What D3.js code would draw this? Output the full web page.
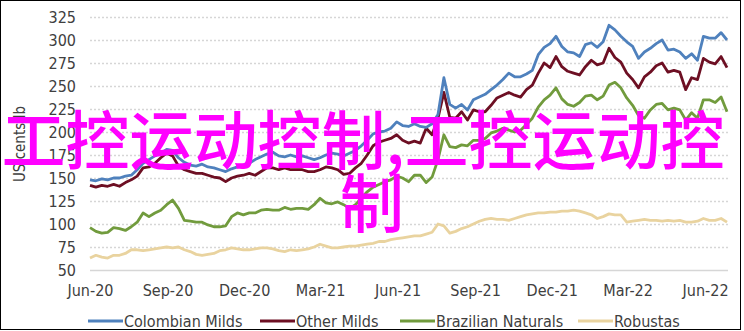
<!DOCTYPE html>
<html>
<head>
<meta charset="utf-8">
<script src="https://cdn.jsdelivr.net/npm/d3@7"></script>
<style>
  html, body { margin: 0; padding: 0; background: #fff; }
  svg { display: block; }
</style>
</head>
<body>
<svg id="chart" width="744" height="331"></svg>
<script>
// weekly observations starting 1 Jun 2020
const startDate = "2020-06-01";
const seriesNames = ["Colombian Milds", "Other Milds", "Brazilian Naturals", "Robustas"];
const seriesColors = ["#4f81bd", "#6d0f23", "#719b3d", "#e9d39f"];

const colombianMilds = [148,147,149,148,150,150,152,153,159,166,170,174,177,181,180,172,167,164,163,165,
  162,161,159,157,160,162,164,166,170,173,176,178,174,173,175,173,174,172,170,172,
  175,177,176,174,177,180,185,191,198,200,201,204,211,207,206,209,206,205,209,219,
  259,230,226,230,224,235,238,241,246,251,257,264,260,260,263,267,284,292,296,304,
  293,287,286,282,295,297,292,298,316,311,304,298,293,280,287,291,296,300,289,290,
  287,280,285,278,304,302,302,308,300];
const otherMilds = [142,140,142,141,143,141,145,148,152,161,162,166,172,177,174,163,159,157,155,155,
  153,151,150,146,150,152,153,155,153,157,161,161,159,161,159,159,159,157,157,159,
  162,161,159,154,155,161,166,175,185,189,191,193,197,191,188,190,188,204,197,215,
  243,216,215,222,213,224,222,222,229,237,240,243,240,238,246,251,264,275,270,282,
  271,266,264,262,271,278,273,275,291,281,276,264,257,248,260,265,272,275,265,267,
  265,246,259,257,280,276,274,282,270];
const brazilianNaturals = [96,92,90,91,96,95,93,97,102,112,108,112,115,121,126,117,104,103,102,102,
  99,97,97,98,108,112,110,112,112,115,116,115,115,118,116,117,117,116,121,128,
  123,122,124,121,117,121,128,135,140,143,146,148,152,150,146,153,153,145,151,170,
  197,184,183,186,185,191,191,193,199,201,204,202,200,202,208,215,227,235,240,248,
  236,230,228,232,239,240,235,239,251,254,248,237,229,218,215,224,230,231,224,226,
  224,213,221,215,235,235,232,238,222];
const robustas = [63,66,64,63,66,66,68,72,72,71,72,73,74,75,74,75,72,70,67,66,
  67,68,71,72,74,73,72,72,73,74,74,73,71,70,72,71,72,73,75,78,
  76,74,74,75,76,76,77,78,79,81,81,83,84,85,86,87,87,89,91,100,
  98,90,92,95,97,100,103,105,106,105,105,104,106,108,110,111,112,112,113,113,
  114,114,115,114,112,110,106,108,111,110,110,102,103,104,105,104,104,103,104,103,
  104,102,102,103,106,104,104,106,102];

const yTicks = [50, 75, 100, 125, 150, 175, 200, 225, 250, 275, 300, 325];
const xTickMonths = ["2020-06-01", "2020-09-01", "2020-12-01", "2021-03-01", "2021-06-01",
  "2021-09-01", "2021-12-01", "2022-03-01", "2022-06-01"];
const xTickLabels = ["Jun-20", "Sep-20", "Dec-20", "Mar-21", "Jun-21", "Sep-21", "Dec-21", "Mar-22", "Jun-22"];
const overlayLines = ["工控运动控制,工控运动控", "制"];

const parse = d3.timeParse("%Y-%m-%d");
const start = parse(startDate);
const dates = colombianMilds.map((_, i) => d3.timeDay.offset(start, 7 * i));
const allSeries = [colombianMilds, otherMilds, brazilianNaturals, robustas];

const font = "'Liberation Sans Narrow', 'DejaVu Sans Condensed', sans-serif";
const svg = d3.select("#chart");

// outer frame
svg.append("rect")
  .attr("x", 0.5).attr("y", 0.5)
  .attr("width", 740).attr("height", 329)
  .attr("fill", "none").attr("stroke", "#000").attr("stroke-width", 1);

const x = d3.scaleTime()
  .domain([start, dates[dates.length - 1]])
  .range([90, 727]);
const y = d3.scaleLinear()
  .domain([50, 325])
  .range([270, 17]);

// gridlines
svg.append("g")
  .selectAll("line")
  .data(yTicks)
  .join("line")
  .attr("x1", 90).attr("x2", 728)
  .attr("y1", d => Math.round(y(d)) + 0.5)
  .attr("y2", d => Math.round(y(d)) + 0.5)
  .attr("stroke", "#d6d6d6")
  .attr("stroke-width", d => d === 50 ? 1.5 : 1.6)
  .attr("stroke-dasharray", d => d === 50 ? null : "2,2");

// y axis labels
const yAxis = svg.append("g")
  .attr("transform", "translate(76,0)")
  .call(d3.axisLeft(y).tickValues(yTicks).tickSize(0).tickPadding(0));
yAxis.select(".domain").remove();
yAxis.selectAll("text")
  .attr("font-family", font)
  .attr("font-size", 16)
  .attr("fill", "#404040");

// x axis labels
const xAxis = svg.append("g")
  .attr("transform", "translate(0,285)")
  .call(d3.axisBottom(x)
    .tickValues(xTickMonths.map(parse))
    .tickFormat((d, i) => xTickLabels[i])
    .tickSize(0).tickPadding(0));
xAxis.select(".domain").remove();
xAxis.selectAll("text")
  .attr("font-family", font)
  .attr("font-size", 16)
  .attr("fill", "#404040");

// y title
svg.append("text")
  .attr("transform", "translate(25,144) rotate(-90)")
  .attr("text-anchor", "middle")
  .attr("font-family", font)
  .attr("font-size", 15)
  .attr("fill", "#404040")
  .text("US cents/lb");

// lines, last legend entry drawn first
const line = d3.line()
  .x((d, i) => x(dates[i]))
  .y(d => y(d));

svg.append("g")
  .selectAll("path")
  .data(allSeries.map((s, i) => ({ values: s, color: seriesColors[i] })).reverse())
  .join("path")
  .attr("d", d => line(d.values))
  .attr("fill", "none")
  .attr("stroke", d => d.color)
  .attr("stroke-width", 2.8)
  .attr("stroke-linejoin", "round");

// legend
const legendX = [88, 260, 400, 578];
const legend = svg.append("g")
  .selectAll("g")
  .data(seriesNames)
  .join("g")
  .attr("transform", (d, i) => `translate(${legendX[i]},321)`);
legend.append("line")
  .attr("x1", 0).attr("x2", 35)
  .attr("stroke", (d, i) => seriesColors[i])
  .attr("stroke-width", 3);
legend.append("text")
  .attr("x", 36)
  .attr("dy", "0.35em")
  .attr("font-family", font)
  .attr("font-size", 16)
  .attr("fill", "#404040")
  .text(d => d);

// magenta overlay text
svg.append("g")
  .selectAll("text")
  .data(overlayLines)
  .join("text")
  .attr("x", (d, i) => i === 0 ? 363 : 372)
  .attr("y", (d, i) => 164 + i * 63)
  .attr("text-anchor", "middle")
  .attr("font-family", "'Noto Sans CJK SC', sans-serif")
  .attr("font-size", 64)
  .attr("font-weight", 500)
  .attr("fill", "#ff00ff")
  .text(d => d);
</script>
</body>
</html>
